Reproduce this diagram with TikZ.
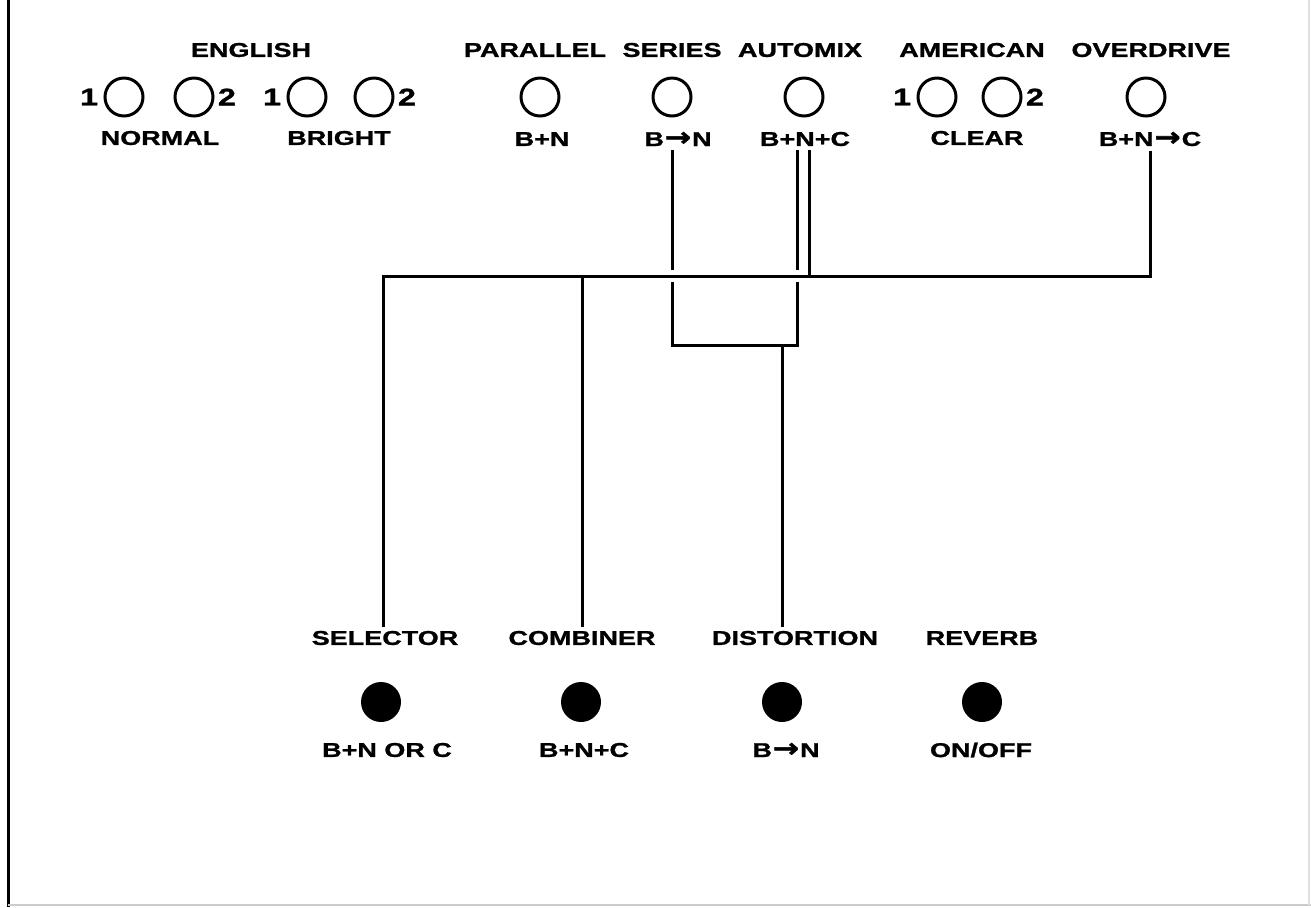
\documentclass[tikz,border=0pt]{standalone}
\usepackage{fontspec}
\newfontfamily\panelfont{Liberation Sans}[FakeStretch=1.35,FakeBold=1.2]
\newfontfamily\arrowfont{DejaVu Sans}[FakeStretch=1.2,FakeBold=2]
\newcommand{\feeds}{{\arrowfont\fontsize{13}{14}\selectfont\kern0.5pt →\kern0.5pt}}
\usepackage{tikz}
\usetikzlibrary{positioning}

\begin{document}
\begin{tikzpicture}[
x=0.5pt,y=-0.5pt,
Lbl/.style={font=\panelfont\bfseries\fontsize{10}{12}\selectfont,inner sep=2pt},
Num/.style={font=\panelfont\bfseries\fontsize{12}{14}\selectfont,inner sep=0pt},
Knob/.style={circle,draw,line width=1.5pt,minimum size=19pt,inner sep=0pt},
Foot/.style={circle,fill,minimum size=20pt,inner sep=0pt},
Wire/.style={line width=1.5pt}
]
\useasboundingbox (0,0) rectangle (1311,907);

% panel edges
\draw[line width=1.5pt] (8,0) -- (8,907);
\draw[black!20,line width=0.8pt] (8,905) -- (1311,905);
\draw[black!12,line width=0.8pt] (1309,0) -- (1309,905);

% front panel switches
\node[Lbl] (engT) at (251,50) {ENGLISH};
\node[Knob] (en1) at (124,97) {};
\node[Knob] (en2) at (194,97) {};
\node[Knob] (br1) at (307,97) {};
\node[Knob] (br2) at (374,97) {};
\node[Num,left=2.5pt of en1] (en1n) {1};
\node[Num,right=1.5pt of en2] (en2n) {2};
\node[Num,left=2.5pt of br1] (br1n) {1};
\node[Num,right=1.5pt of br2] (br2n) {2};
\node[Lbl] (norB) at (160,138) {NORMAL};
\node[Lbl] (briB) at (339,138) {BRIGHT};

\node[Lbl] (parT) at (535,50) {PARALLEL};
\node[Knob] (parK) at (540,97) {};
\node[Lbl] (parB) at (542,139) {B+N};

\node[Lbl] (serT) at (672,50) {SERIES};
\node[Knob] (serK) at (672,97) {};
\node[Lbl] (serB) at (678,139) {B\feeds N};

\node[Lbl] (amxT) at (800,50) {AUTOMIX};
\node[Knob] (amxK) at (804,97) {};
\node[Lbl] (amxB) at (805,139) {B+N+C};

\node[Lbl] (amrT) at (972,50) {AMERICAN};
\node[Knob] (am1) at (937,97) {};
\node[Knob] (am2) at (1002,97) {};
\node[Num,left=2.5pt of am1] (am1n) {1};
\node[Num,right=1.5pt of am2] (am2n) {2};
\node[Lbl] (clrB) at (977,138) {CLEAR};

\node[Lbl] (odT) at (1151,50) {OVERDRIVE};
\node[Knob] (odK) at (1146,97) {};
\node[Lbl] (odB) at (1150,139) {B+N\feeds C};

% foot switches
\node[Lbl] (selT) at (385,638) {SELECTOR};
\node[Foot] (selK) at (381,702) {};
\node[Lbl] (selB) at (387,750) {B+N OR C};

\node[Lbl] (comT) at (582,638) {COMBINER};
\node[Foot] (comK) at (581,702) {};
\node[Lbl] (comB) at (584,750) {B+N+C};

\node[Lbl] (disT) at (795,638) {DISTORTION};
\node[Foot] (disK) at (782,702) {};
\node[Lbl] (disB) at (786,750) {B\feeds N};

\node[Lbl] (revT) at (982,638) {REVERB};
\node[Foot] (revK) at (982,702) {};
\node[Lbl] (revB) at (981,750) {ON/OFF};

% wiring
\coordinate (busL) at (383,276);
\coordinate (busR) at (1150,276);
\coordinate (brg) at (672,345);
\coordinate (amxA) at ([xshift=-4pt]amxB.south);
\coordinate (amxC) at ([xshift=2pt]amxB.south);
\coordinate (serX) at (serK |- busL);
\coordinate (amxX) at (amxA |- busL);

\draw[Wire] (odB.south) -- (busR) -- (busL) -- (busL |- selT.north);
\draw[Wire] (comT.north |- busL) -- (comT.north);
\draw[Wire] (amxC) -- (amxC |- busL);
\draw[Wire] (serK |- serB.south) -- ([yshift=3pt]serX);
\draw[Wire] ([yshift=-3pt]serX) -- (serX |- brg) -- (amxX |- brg) -- ([yshift=-3pt]amxX);
\draw[Wire] (amxA) -- ([yshift=3pt]amxX);
\draw[Wire] (disK |- brg) -- (disK |- disT.north);

\end{tikzpicture}
\end{document}
